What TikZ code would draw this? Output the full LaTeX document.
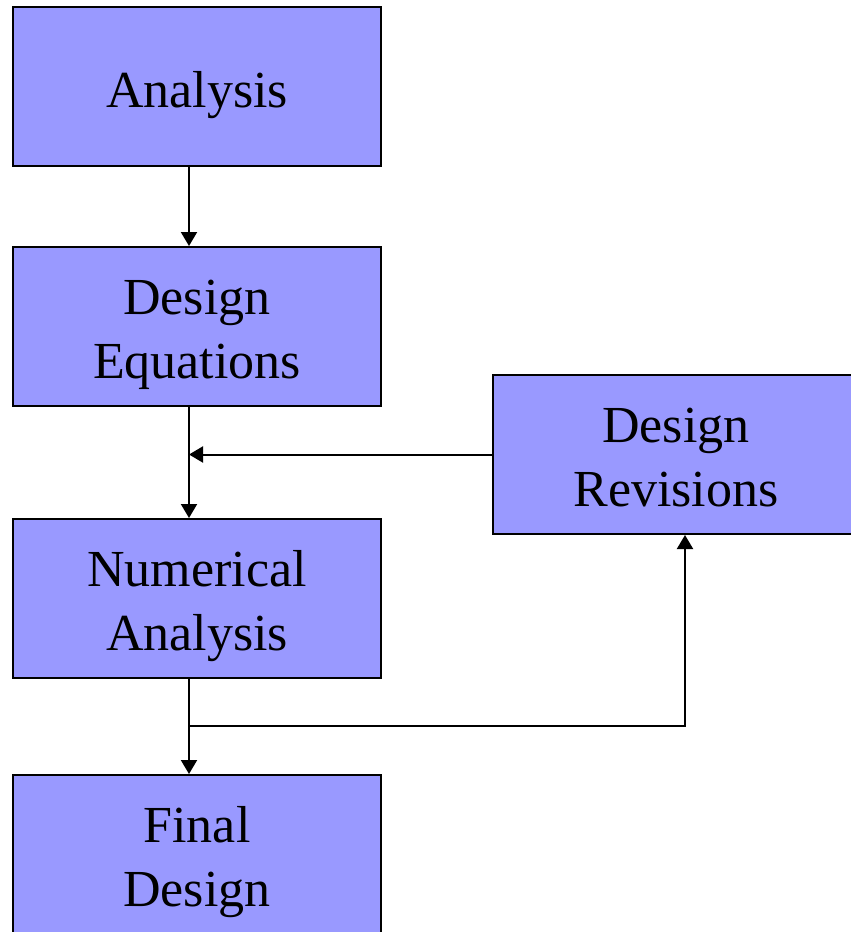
\documentclass[tikz,border=0pt]{standalone}
\usepackage{fontspec}
\setmainfont{Liberation Serif}
\usetikzlibrary{arrows.meta}
\definecolor{boxfill}{RGB}{153,153,255}
\tikzset{
  flowbox/.style={draw=black, line width=2pt, fill=boxfill, minimum width=368pt, minimum height=159pt, inner sep=0pt, align=center, font=\fontsize{52}{64}\selectfont},
  oneline/.style={text height=41pt, text depth=0pt},
  twoline/.style={text height=105pt, text depth=2pt},
  conn/.style={line width=2pt, -{Triangle[width=16pt,length=14pt]}},
  plainline/.style={line width=2pt}
}
\begin{document}
\begin{tikzpicture}[x=1pt,y=-1pt]
\useasboundingbox (0,0) rectangle (851,932);
\node[flowbox, oneline] (ana) at (197,86.5) {Analysis};
\node[flowbox, twoline] (deq) at (197,326.5) {Design\\Equations};
\node[flowbox, twoline] (num) at (197,598.5) {Numerical\\Analysis};
\node[flowbox, twoline] (fin) at (197,854.5) {Final\\Design};
\node[flowbox, twoline, minimum width=366pt] (rev) at (676,454.5) {Design\\Revisions};
\coordinate (cx) at (189,0);
\coordinate (fx) at (685,0);
\coordinate (junc) at (189,726);
\draw[conn] (ana.south -| cx) -- (deq.north -| cx);
\draw[conn] (deq.south -| cx) -- (num.north -| cx);
\draw[conn] (rev.west) -- (rev.west -| cx);
\draw[conn] (num.south -| cx) -- (fin.north -| cx);
\draw[conn] (junc) -- (junc -| fx) -- (rev.south -| fx);
\end{tikzpicture}
\end{document}
